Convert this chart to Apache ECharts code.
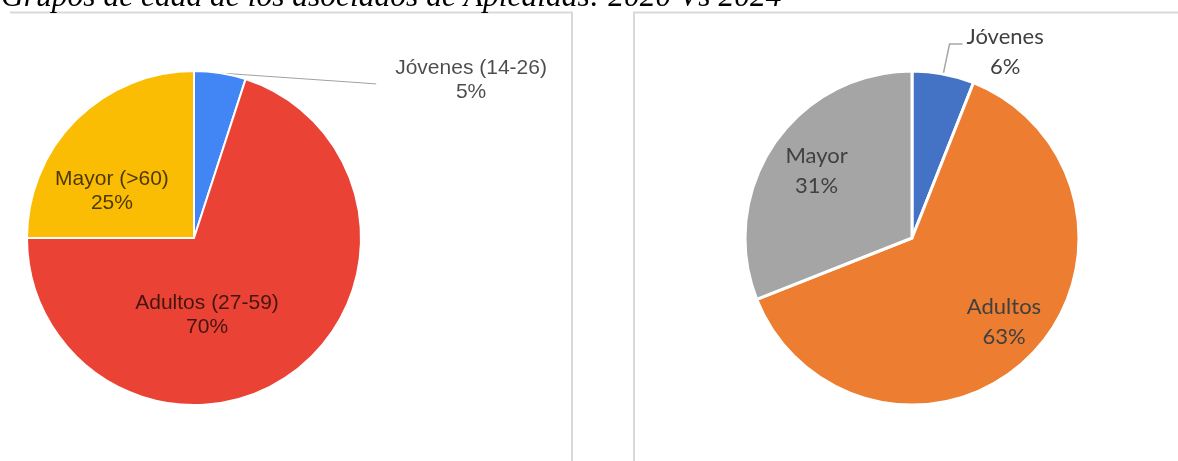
<!DOCTYPE html>
<html>
<head>
<meta charset="utf-8">
<script src="https://cdn.jsdelivr.net/npm/echarts@6/dist/echarts.min.js"></script>
<style>
  html, body { margin: 0; padding: 0; background: #fff; }
  #chart { width: 1178px; height: 461px; }
</style>
</head>
<body>
<div id="chart"></div>
<script>
// data
const titleText = 'Grupos de edad de los asociados de Apicaldas: 2020 Vs 2024'
const names2020 = ['Jóvenes (14-26)', 'Adultos (27-59)', 'Mayor (>60)']
const values2020 = [5, 70, 25]
const names2024 = ['Jóvenes', 'Adultos', 'Mayor']
const values2024 = [6, 63, 31]

// styling
const colors2020 = ['#4285f4', '#ea4335', '#fbbc04']
const colors2024 = ['#4472c4', '#ed7d31', '#a5a5a5']
const R = 167
const center2020 = [194, 238]
const center2024 = [912, 238]
// label spot per slice: [angle from 12 o'clock clockwise, fraction of radius]
const spots2020 = [[60.3, 1.91], [170.4, 0.468], [299.6, 0.565]]
const spots2024 = [[26.6, 1.245], [132.4, 0.746], [304.9, 0.697]]

const chart = echarts.init(document.getElementById('chart'))

function makeLayout(center, spots, lineFn) {
  return (params) => {
    const s = spots[params.dataIndex]
    const a = (s[0] * Math.PI) / 180
    const x = center[0] + R * s[1] * Math.sin(a)
    const y = center[1] - R * s[1] * Math.cos(a)
    const out = { x: x, y: y, align: 'center', verticalAlign: 'middle' }
    if (params.labelLinePoints) {
      const w = params.labelRect.width
      const h = params.labelRect.height
      out.labelLinePoints = lineFn(params.labelLinePoints[0], x - w / 2, y, h)
    }
    return out
  }
}

function buildData(names, values, colors) {
  return names.map((n, i) => {
    const item = { name: n, value: values[i], itemStyle: { color: colors[i] } }
    if (i === 0) {
      item.label = { position: 'outside' }
      item.labelLine = { show: true }
    }
    return item
  })
}

const pctFormatter = (p) => p.name + '\n' + Math.round(p.percent) + '%'

const option = {
  animation: false,
  title: {
    text: titleText,
    left: 1,
    top: -18,
    padding: 0,
    textStyle: {
      fontFamily: 'Liberation Serif',
      fontStyle: 'italic',
      fontWeight: 'normal',
      fontSize: 31.5,
      color: '#000'
    }
  },
  graphic: [
    {
      type: 'polyline',
      shape: { points: [[10, 12.5], [572, 12.5], [572, 461]] },
      style: { stroke: '#d9d9d9', lineWidth: 2, fill: null },
      silent: true
    },
    {
      type: 'polyline',
      shape: { points: [[634, 461], [634, 12.5], [1178, 12.5]] },
      style: { stroke: '#d9d9d9', lineWidth: 2, fill: null },
      silent: true
    }
  ],
  series: [
    {
      type: 'pie',
      center: center2020,
      radius: R,
      startAngle: 90,
      clockwise: true,
      itemStyle: { borderColor: '#fff', borderWidth: 2 },
      label: {
        show: true,
        position: 'inside',
        formatter: pctFormatter,
        fontFamily: 'Liberation Sans',
        fontSize: 21,
        lineHeight: 24,
        color: 'rgba(0,0,0,0.7)'
      },
      labelLine: {
        show: false,
        lineStyle: { color: '#a0a0a0', width: 1 }
      },
      labelLayout: makeLayout(center2020, spots2020, (p0, left, cy, h) => [
        p0,
        [left - 32, cy + 3],
        [left - 19, cy + 4]
      ]),
      data: buildData(names2020, values2020, colors2020)
    },
    {
      type: 'pie',
      center: center2024,
      radius: R,
      startAngle: 90,
      clockwise: true,
      itemStyle: { borderColor: '#fff', borderWidth: 3 },
      label: {
        show: true,
        position: 'inside',
        formatter: pctFormatter,
        fontFamily: 'Lato',
        fontSize: 22,
        lineHeight: 30,
        color: '#404040'
      },
      labelLine: {
        show: false,
        lineStyle: { color: '#a6a6a6', width: 1.5 }
      },
      labelLayout: makeLayout(center2024, spots2024, (p0, left, cy, h) => [
        p0,
        [left - 17, cy - 8],
        [left - 4, cy - 8]
      ]),
      data: buildData(names2024, values2024, colors2024)
    }
  ]
}

chart.setOption(option)
</script>
</body>
</html>
